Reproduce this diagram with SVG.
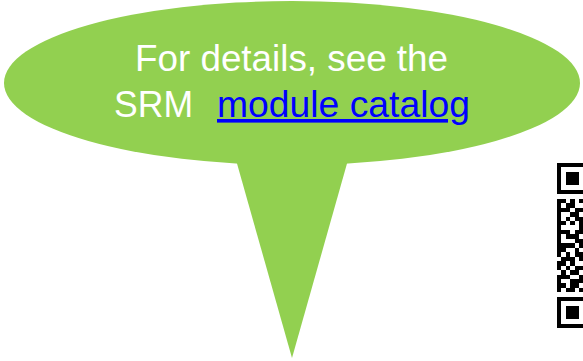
<svg xmlns="http://www.w3.org/2000/svg" width="583" height="361" viewBox="0 0 583 361">
  <style>
    .bubble { fill: #92D050; }
    .txt { font-family: "Liberation Sans", Arial, sans-serif; font-size: 36px; }
    .white { fill: #FFFFFF; }
    .link { fill: #0000FF; text-decoration: underline; }
    .qr { fill: #000000; fill-rule: evenodd; shape-rendering: crispEdges; }
  </style>
  <rect width="583" height="361" fill="#FFFFFF"/>
  <g id="bubble">
    <ellipse class="bubble" cx="292" cy="83" rx="288" ry="82"/>
    <polygon class="bubble" points="236,160 348,160 292,358"/>
  </g>
  <g id="label">
    <text class="txt white" x="135" y="71" textLength="313" lengthAdjust="spacingAndGlyphs">For details, see the</text>
    <text class="txt white" x="114" y="117" textLength="79" lengthAdjust="spacingAndGlyphs">SRM</text>
    <text class="txt link" x="217" y="117" textLength="253" lengthAdjust="spacingAndGlyphs">module catalog</text>
  </g>
  <g id="qr" transform="translate(557,163) scale(4.46)">
    <path class="qr" d="M0 0h7v7H0z M1 1h5v5H1z M2 2h3v3H2z
      M0 30h7v7H0z M1 31h5v5H1z M2 32h3v3H2z
      M0 8h2v1H0z M3 8h1v1H3z M5 8h1v1H5z
      M0 9h1v1H0z M2 9h2v1H2z
      M0 10h3v1H0z M4 10h2v1H4z
      M0 11h1v1H0z M3 11h2v1H3z
      M0 12h1v1H0z M2 12h1v1H2z M4 12h2v1H4z
      M0 13h2v1H0z M3 13h1v1H3z M5 13h1v1H5z
      M0 14h1v1H0z M5 14h1v1H5z
      M0 15h3v1H0z M4 15h2v1H4z
      M0 16h1v1H0z M2 16h3v1H2z
      M0 17h1v1H0z M4 17h2v1H4z
      M0 18h4v1H0z M5 18h1v1H5z
      M0 19h2v1H0z M4 19h1v1H4z
      M0 20h1v1H0z M2 20h1v1H2z M4 20h2v1H4z
      M1 21h3v1H1z M5 21h1v1H5z
      M0 22h2v1H0z M3 22h1v1H3z
      M0 23h1v1H0z M2 23h1v1H2z M4 23h2v1H4z
      M1 24h1v1H1z M3 24h2v1H3z
      M0 25h3v1H0z M5 25h1v1H5z
      M0 26h1v1H0z M3 26h3v1H3z
      M0 27h2v1H0z M3 27h2v1H3z
      M0 28h1v1H0z M2 28h2v1H2z M5 28h1v1H5z"/>
  </g>
</svg>
